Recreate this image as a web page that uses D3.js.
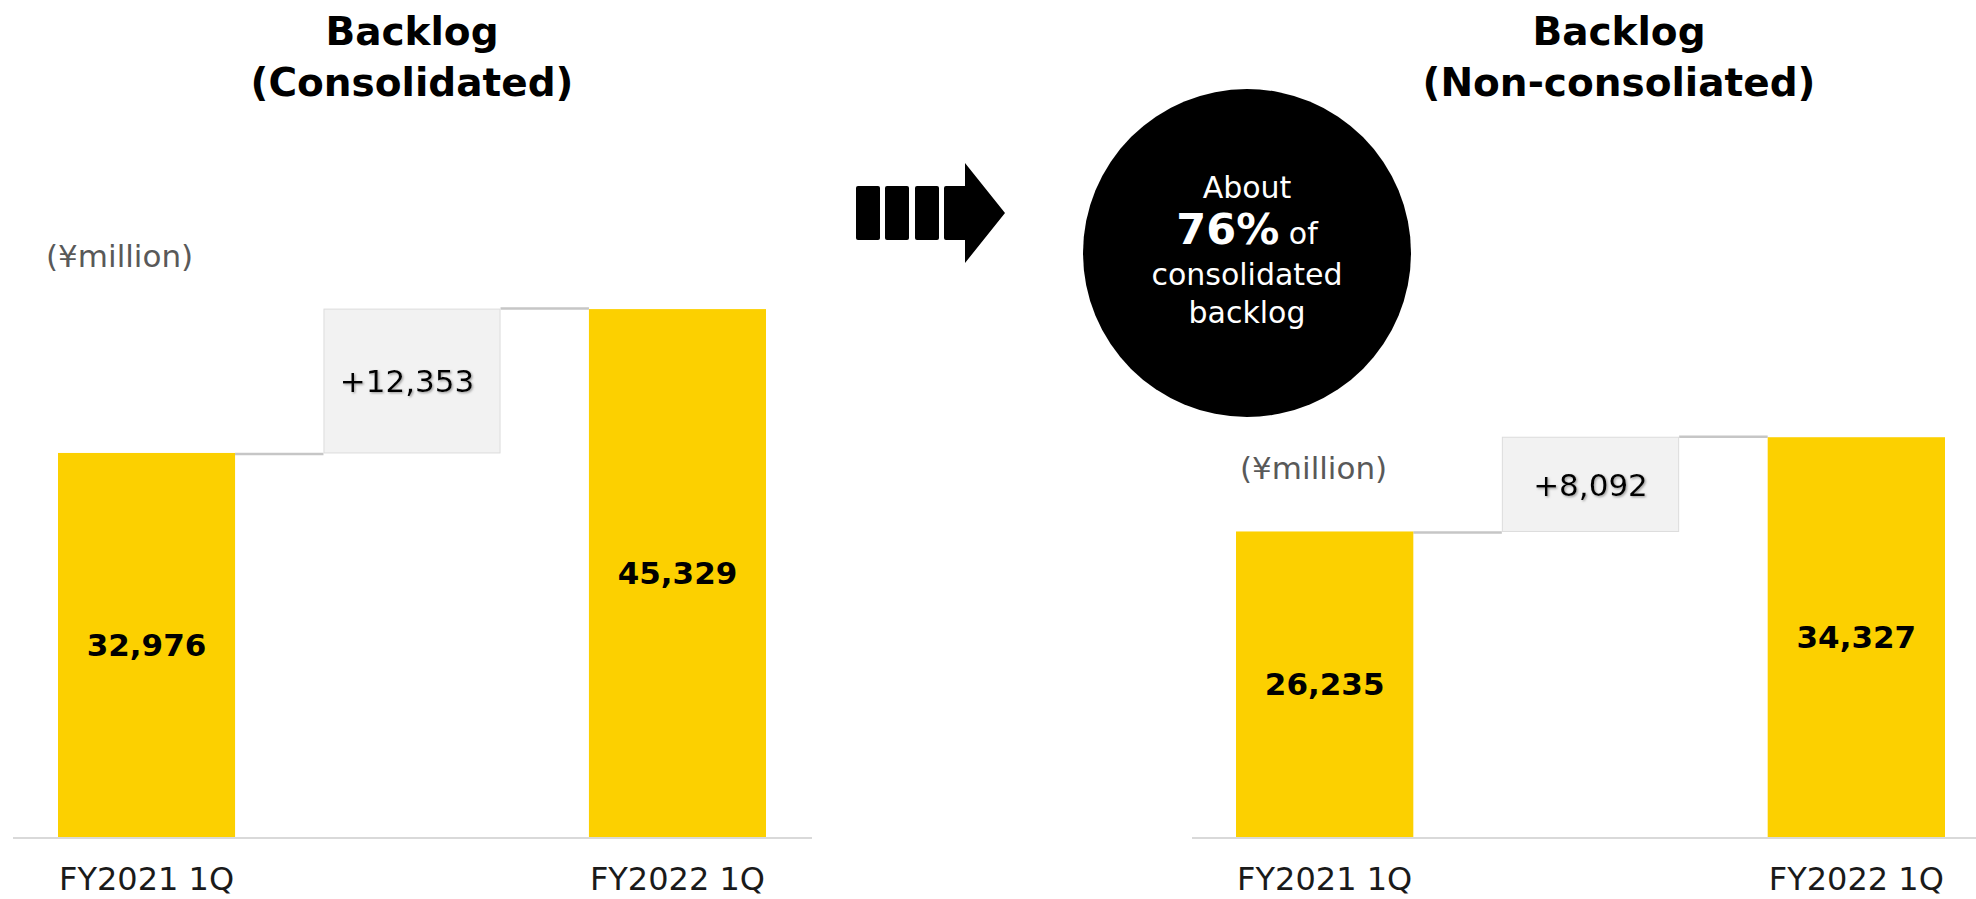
<!DOCTYPE html>
<html>
<head>
<meta charset="utf-8">
<script src="https://cdn.jsdelivr.net/npm/d3@7"></script>
<style>
  html, body { margin: 0; padding: 0; background: #fff; }
  svg { display: block; }
  text { font-family: "DejaVu Sans", Verdana, sans-serif; }
</style>
</head>
<body>
<svg id="chart" width="1976" height="899"></svg>
<script>
// ---- Data ----
const categories = ["FY2021 1Q", "change", "FY2022 1Q"];
const consolidatedValues = [32976, 12353, 45329];
const nonConsolidatedValues = [26235, 8092, 34327];
const titlesLeft = ["Backlog", "(Consolidated)"];
const titlesRight = ["Backlog", "(Non-consoliated)"];
const unitLabel = "(¥million)";
const circleLines = ["About", "76%", " of", "consolidated", "backlog"];

const fmt = d3.format(",");
const YELLOW = "#FCD000";

const svg = d3.select("#chart");

const defs = svg.append("defs");
const f = defs.append("filter").attr("id", "shadow")
  .attr("x", "-10%").attr("y", "-20%").attr("width", "130%").attr("height", "150%");
f.append("feDropShadow").attr("dx", 1.2).attr("dy", 1.2).attr("stdDeviation", 0.9)
  .attr("flood-color", "#777").attr("flood-opacity", 0.7);

// shared y scale
const y = d3.scaleLinear().domain([0, 50000]).range([837, 254.7]);

function panel(opts) {
  const { values, x0, x1, axisX0, axisX1, titles, titleX, unitX, unitY } = opts;
  const g = svg.append("g");
  const x = d3.scaleBand().domain(categories).range([x0, x1])
    .paddingInner(0.333).paddingOuter(0);
  const bw = x.bandwidth();
  const start = values[0], delta = values[1], end = values[2];

  // baseline
  g.append("line")
    .attr("x1", axisX0).attr("x2", axisX1)
    .attr("y1", y(0) + 1).attr("y2", y(0) + 1)
    .attr("stroke", "#d9d9d9").attr("stroke-width", 2);

  // connectors
  g.append("line")
    .attr("x1", x(categories[0]) + bw).attr("x2", x(categories[1]))
    .attr("y1", y(start) + 1).attr("y2", y(start) + 1)
    .attr("stroke", "#c6c6c6").attr("stroke-width", 2.5);
  g.append("line")
    .attr("x1", x(categories[1]) + bw).attr("x2", x(categories[2]))
    .attr("y1", y(end) - 0.5).attr("y2", y(end) - 0.5)
    .attr("stroke", "#c6c6c6").attr("stroke-width", 2.5);

  // total bars
  const totals = [{ c: categories[0], v: start }, { c: categories[2], v: end }];
  g.selectAll("rect.total").data(totals).enter().append("rect")
    .attr("class", "total")
    .attr("x", d => x(d.c)).attr("width", bw)
    .attr("y", d => y(d.v)).attr("height", d => y(0) - y(d.v))
    .attr("fill", YELLOW);

  // delta box
  g.append("rect")
    .attr("x", x(categories[1]) + 0.5).attr("width", bw - 1)
    .attr("y", y(start + delta)).attr("height", y(start) - y(start + delta))
    .attr("fill", "#f2f2f2").attr("stroke", "#dcdcdc").attr("stroke-width", 1);

  // labels inside totals
  g.selectAll("text.val").data(totals).enter().append("text")
    .attr("class", "val")
    .attr("x", d => x(d.c) + bw / 2)
    .attr("y", d => (y(d.v) + y(0)) / 2)
    .attr("dy", "0.36em")
    .attr("text-anchor", "middle")
    .attr("font-size", 31).attr("font-weight", "bold").attr("fill", "#000")
    .text(d => fmt(d.v));

  // delta label
  g.append("text")
    .attr("x", x(categories[1]) + bw / 2 - (delta > 10000 ? 5 : 0))
    .attr("y", (y(start) + y(start + delta)) / 2)
    .attr("dy", "0.36em")
    .attr("text-anchor", "middle")
    .attr("font-size", 31).attr("fill", "#000")
    .attr("filter", "url(#shadow)")
    .text("+" + fmt(delta));

  // category labels
  g.selectAll("text.cat").data([categories[0], categories[2]]).enter().append("text")
    .attr("class", "cat")
    .attr("x", d => x(d) + bw / 2)
    .attr("y", 890)
    .attr("text-anchor", "middle")
    .attr("font-size", 32).attr("fill", "#1a1a1a")
    .text(d => d);

  // titles
  g.selectAll("text.title").data(titles).enter().append("text")
    .attr("class", "title")
    .attr("x", titleX)
    .attr("y", (d, i) => 45 + i * 51)
    .attr("text-anchor", "middle")
    .attr("font-size", 39).attr("font-weight", "bold").attr("fill", "#000")
    .text(d => d);

  // unit label
  g.append("text")
    .attr("x", unitX).attr("y", unitY)
    .attr("font-size", 31).attr("fill", "#595959")
    .text(unitLabel);
}

panel({
  values: consolidatedValues, x0: 58, x1: 766, axisX0: 13, axisX1: 812,
  titles: titlesLeft, titleX: 412, unitX: 46, unitY: 267
});
panel({
  values: nonConsolidatedValues, x0: 1236, x1: 1945, axisX0: 1192, axisX1: 1976,
  titles: titlesRight, titleX: 1619, unitX: 1240, unitY: 479
});

// ---- arrow ----
const ag = svg.append("g").attr("fill", "#000");
[[856, 880], [885, 909], [915, 939]].forEach(([a, b]) => {
  ag.append("rect").attr("x", a).attr("y", 186).attr("width", b - a).attr("height", 54)
    .attr("rx", 2).attr("ry", 2);
});
ag.append("path")
  .attr("d", "M944,188 Q944,186 946,186 L965,186 L965,163 L1005,213 L965,263 L965,240 L946,240 Q944,240 944,238 Z");

// ---- circle ----
const cx = 1247, cy = 253, r = 164;
svg.append("circle").attr("cx", cx).attr("cy", cy).attr("r", r).attr("fill", "#000");
const ct = svg.append("g").attr("fill", "#fff").attr("text-anchor", "middle");
ct.append("text").attr("x", cx).attr("y", 198).attr("font-size", 30).text(circleLines[0]);
const t2 = ct.append("text").attr("x", cx).attr("y", 244);
t2.append("tspan").attr("font-size", 43).attr("font-weight", "bold").text(circleLines[1]);
t2.append("tspan").attr("font-size", 30).text(circleLines[2]);
ct.append("text").attr("x", cx).attr("y", 285).attr("font-size", 30).text(circleLines[3]);
ct.append("text").attr("x", cx).attr("y", 323).attr("font-size", 30).text(circleLines[4]);
</script>
</body>
</html>
